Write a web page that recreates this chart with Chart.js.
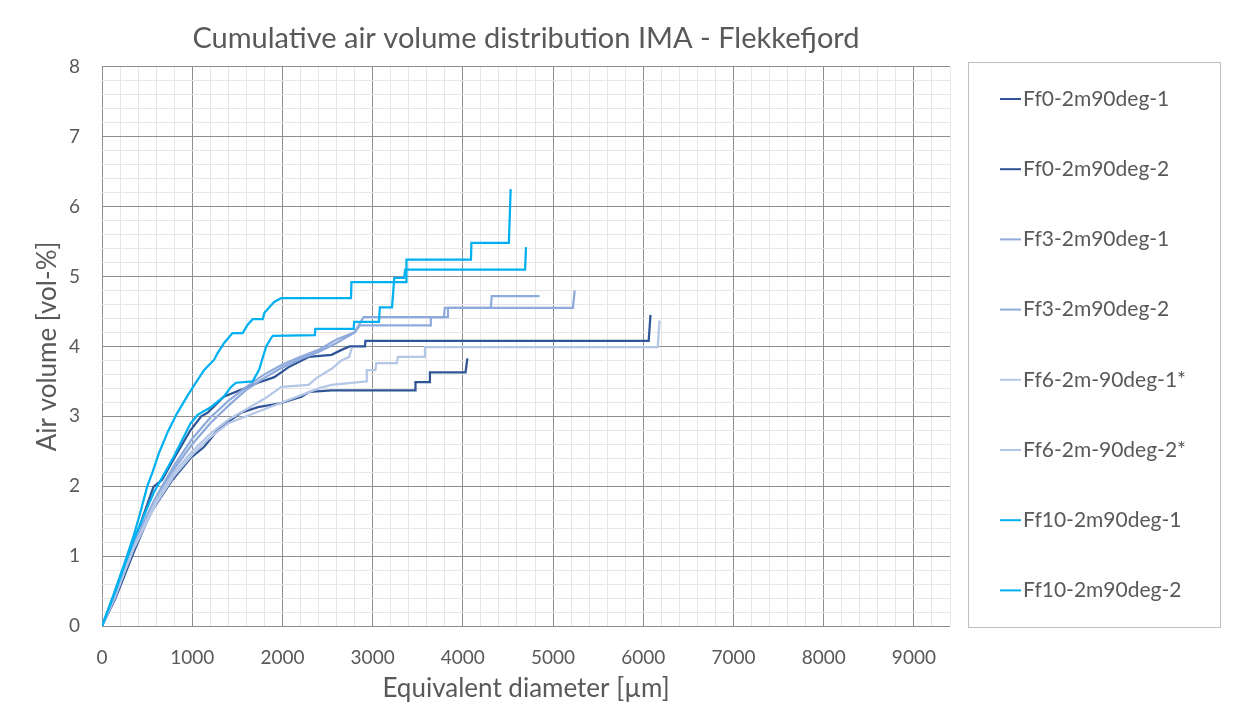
<!DOCTYPE html>
<html><head><meta charset="utf-8">
<script src="https://cdn.jsdelivr.net/npm/chart.js@4.4.1/dist/chart.umd.min.js"></script>
<style>html,body{margin:0;padding:0;background:#fff;}</style>
</head><body>
<canvas id="c" width="1249" height="713"></canvas>
<script>
// ---- data ----
const seriesNames = ["Ff0-2m90deg-1","Ff0-2m90deg-2","Ff3-2m90deg-1","Ff3-2m90deg-2","Ff6-2m-90deg-1*","Ff6-2m-90deg-2*","Ff10-2m90deg-1","Ff10-2m90deg-2"];
const seriesColors = ["#2F5597","#305496","#8FAADC","#8EA9DB","#B4C7E7","#B4C6E7","#00B0F0","#00B0F0"];

const ff0_1_d = [0,150,350,450,570,665,800,980,1100,1170,1350,1540,1730,1910,2065,2290,2545,2655,2745,2915,2920,6060,6080];
const ff0_1_v = [0,0.45,1.15,1.55,1.99,2.09,2.4,2.8,3.0,3.05,3.28,3.38,3.48,3.56,3.7,3.85,3.88,3.95,4.0,4.0,4.08,4.08,4.45];

const ff0_2_d = [0,150,350,535,780,980,1130,1300,1540,1730,1990,2210,2300,2545,3470,3475,3630,3635,4030,4050];
const ff0_2_v = [0,0.4,1.05,1.61,2.09,2.4,2.56,2.83,3.05,3.13,3.19,3.28,3.35,3.37,3.37,3.49,3.49,3.63,3.63,3.83];

const ff3_1_d = [0,150,350,600,800,1000,1200,1400,1600,1800,2000,2200,2400,2600,2800,2860,3640,3645,3830,3835,4310,4320,4850];
const ff3_1_v = [0,0.45,1.2,1.85,2.3,2.68,2.98,3.22,3.42,3.6,3.74,3.85,3.95,4.1,4.2,4.3,4.3,4.42,4.42,4.55,4.55,4.72,4.72];

const ff3_2_d = [0,150,350,600,800,1000,1200,1400,1600,1800,2000,2200,2400,2600,2800,2900,3790,3800,5220,5240];
const ff3_2_v = [0,0.42,1.15,1.8,2.25,2.6,2.9,3.15,3.38,3.55,3.7,3.82,3.92,4.05,4.2,4.42,4.42,4.55,4.55,4.8];

const ff6_1_d = [0,150,350,600,800,1000,1200,1400,1600,1800,2000,2200,2400,2545,2930,2935,3030,3040,3270,3280,3570,3580,6160,6180];
const ff6_1_v = [0,0.45,1.1,1.75,2.15,2.45,2.7,2.9,3.0,3.1,3.2,3.3,3.4,3.45,3.5,3.66,3.66,3.76,3.76,3.85,3.85,3.99,3.99,4.37];

const ff6_2_d = [0,150,350,600,800,1000,1200,1400,1600,1800,1990,2290,2380,2545,2655,2740,2770];
const ff6_2_v = [0,0.45,1.12,1.8,2.2,2.5,2.75,2.95,3.1,3.25,3.42,3.45,3.55,3.68,3.8,3.85,3.98];

const ff10_1_d = [0,120,250,346,420,500,560,630,730,835,950,1060,1131,1243,1280,1354,1447,1559,1615,1670,1782,1800,1875,1912,1987,2760,2765,3370,3375,4090,4095,4510,4530];
const ff10_1_v = [0,0.42,0.9,1.27,1.6,1.99,2.2,2.47,2.78,3.05,3.3,3.52,3.66,3.81,3.9,4.05,4.19,4.19,4.31,4.39,4.39,4.48,4.59,4.64,4.69,4.69,4.92,4.92,5.24,5.24,5.48,5.48,6.25];

const ff10_2_d = [0,150,350,570,795,982,1060,1205,1350,1430,1485,1670,1740,1780,1820,1875,1893,2360,2365,2790,2795,3070,3080,3215,3240,3350,3360,4690,4700];
const ff10_2_v = [0,0.5,1.23,1.9,2.42,2.9,3.02,3.13,3.28,3.42,3.48,3.5,3.66,3.83,4.0,4.12,4.15,4.16,4.25,4.25,4.35,4.35,4.56,4.56,4.98,4.98,5.1,5.1,5.42];

const seriesD = [ff0_1_d, ff0_2_d, ff3_1_d, ff3_2_d, ff6_1_d, ff6_2_d, ff10_1_d, ff10_2_d];
const seriesV = [ff0_1_v, ff0_2_v, ff3_1_v, ff3_2_v, ff6_1_v, ff6_2_v, ff10_1_v, ff10_2_v];

const xMax = 9400, xMinorStep = 200, xMajorStep = 1000;
const yMax = 8, yMinorStep = 0.2, yMajorStep = 1;

// ---- chart ----
const FONT = 'Lato, "Open Sans", "Noto Sans", sans-serif';
const TXT = '#595959';
const isMult = (v, s) => Math.abs(v / s - Math.round(v / s)) < 1e-6;

const datasets = seriesNames.map((name, i) => ({
  label: name,
  data: seriesD[i].map((d, k) => ({x: d, y: seriesV[i][k]})),
  borderColor: seriesColors[i],
  backgroundColor: seriesColors[i],
  borderWidth: 2.25,
  pointRadius: 0,
  tension: 0,
  fill: false,
  order: seriesNames.length - 1 - i
}));

const legendBox = {
  id: 'legendBox',
  afterDraw(chart) {
    const ctx = chart.ctx;
    ctx.save();
    ctx.strokeStyle = '#BFBFBF';
    ctx.lineWidth = 1;
    ctx.strokeRect(968.5, 62.5, 252, 565);
    ctx.font = '21px ' + FONT;
    ctx.textBaseline = 'middle';
    ctx.fillStyle = TXT;
    chart.data.datasets.forEach((ds, i) => {
      const y = 99 + i * 70.2;
      ctx.strokeStyle = ds.borderColor;
      ctx.lineWidth = 2;
      ctx.beginPath(); ctx.moveTo(1000, y); ctx.lineTo(1021, y); ctx.stroke();
      ctx.fillText(ds.label, 1023, y);
    });
    ctx.restore();
  }
};

new Chart(document.getElementById('c'), {
  type: 'line',
  data: { datasets },
  options: {
    responsive: false,
    animation: false,
    devicePixelRatio: 1,
    layout: { padding: { left: 28, right: 299, top: 3, bottom: 5 } },
    plugins: {
      legend: { display: false },
      tooltip: { enabled: false },
      title: {
        display: true,
        text: 'Cumulative air volume distribution IMA - Flekkefjord',
        fullSize: false,
        color: TXT,
        font: { family: FONT, size: 29, weight: 'normal' },
        padding: { top: 18, bottom: 11 }
      }
    },
    scales: {
      x: {
        type: 'linear', min: 0, max: xMax,
        afterFit: s => { s.height = 82; },
        ticks: {
          stepSize: xMinorStep, autoSkip: false, maxRotation: 0,
          color: TXT, padding: 20, font: { family: FONT, size: 19 },
          callback: v => isMult(v, xMajorStep) ? String(v) : ''
        },
        grid: {
          drawTicks: false, lineWidth: 1,
          color: c => isMult(c.tick.value, xMajorStep) ? '#8E8E8E' : '#E6E6E6'
        },
        border: { display: false },
        title: { display: true, text: 'Equivalent diameter [µm]', color: TXT, font: { family: FONT, size: 26 }, padding: { top: 4, bottom: 4 } }
      },
      y: {
        type: 'linear', min: 0, max: yMax,
        afterFit: s => { s.width = 74; },
        ticks: {
          stepSize: yMinorStep, autoSkip: false,
          color: TXT, padding: 22, font: { family: FONT, size: 19 },
          callback: v => isMult(v, yMajorStep) ? String(Math.round(v)) : ''
        },
        grid: {
          drawTicks: false, lineWidth: 1,
          color: c => isMult(c.tick.value, yMajorStep) ? '#8E8E8E' : '#E6E6E6'
        },
        border: { display: false },
        title: { display: true, text: 'Air volume [vol-%]', color: TXT, font: { family: FONT, size: 26 }, padding: { top: 4, bottom: 4 } }
      }
    }
  },
  plugins: [legendBox]
});
</script>
</body></html>
